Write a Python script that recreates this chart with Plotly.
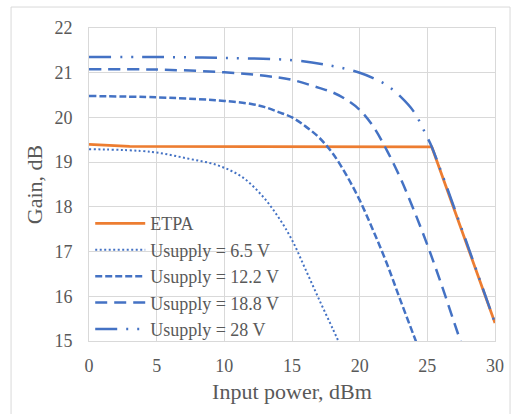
import plotly.graph_objects as go

# ---- data ----
x_etpa = [0, 3, 25.33, 30]
y_etpa = [19.4, 19.35, 19.34, 15.4]

x_65 = [0, 4.6, 7.3, 9.5, 11.3, 12.76, 13.97, 15, 16, 17, 18, 18.5]
y_65 = [19.29, 19.23, 19.08, 18.93, 18.67, 18.26, 17.78, 17.26, 16.6, 15.93, 15.28, 14.95]

x_122 = [0, 5, 8, 10, 12, 13, 14, 15, 16, 17, 18, 19, 20, 21, 22, 23, 24, 24.3]
y_122 = [20.48, 20.45, 20.41, 20.37, 20.3, 20.23, 20.12, 20.0, 19.8, 19.55, 19.2, 18.72, 18.15, 17.47, 16.74, 15.92, 15.12, 14.88]

x_188 = [0, 5, 10, 13, 15, 17, 18, 19, 20, 21, 22, 23, 24, 25, 26, 27, 27.5]
y_188 = [21.08, 21.07, 21.01, 20.93, 20.84, 20.66, 20.56, 20.4, 20.17, 19.8, 19.27, 18.65, 17.93, 17.15, 16.3, 15.4, 14.95]

x_28 = [0, 5, 10, 15, 18, 20, 21, 22, 23, 24, 25, 25.33, 30]
y_28 = [21.35, 21.35, 21.33, 21.28, 21.15, 21.0, 20.88, 20.72, 20.47, 20.13, 19.55, 19.34, 15.4]

x_ticks = [0, 5, 10, 15, 20, 25, 30]
y_ticks = [15, 16, 17, 18, 19, 20, 21, 22]

names = ["ETPA", "Usupply = 6.5 V", "Usupply = 12.2 V", "Usupply = 18.8 V", "Usupply = 28 V"]

ORANGE = "#ED7D31"
BLUE = "#4472C4"
FONT = "Liberation Serif"
TXT = "#595959"
GRID = "#d9d9d9"

fig = go.Figure()
fig.add_trace(go.Scatter(x=x_etpa, y=y_etpa, mode="lines", name=names[0],
                         line=dict(color=ORANGE, width=2.75)))
fig.add_trace(go.Scatter(x=x_65, y=y_65, mode="lines", name=names[1], line_shape="spline",
                         line=dict(color=BLUE, width=2, dash="2px,2.5px")))
fig.add_trace(go.Scatter(x=x_122, y=y_122, mode="lines", name=names[2], line_shape="spline",
                         line=dict(color=BLUE, width=2.5, dash="7px,3px")))
fig.add_trace(go.Scatter(x=x_188, y=y_188, mode="lines", name=names[3], line_shape="spline",
                         line=dict(color=BLUE, width=2.5, dash="12px,7px")))
fig.add_trace(go.Scatter(x=x_28, y=y_28, mode="lines", name=names[4], line_shape="spline",
                         line=dict(color=BLUE, width=2.5, dash="22px,9px,2px,9px,2px,9px")))

fig.update_layout(
    template="none",
    width=512, height=414,
    margin=dict(l=89, r=17, t=28, b=73, autoexpand=False),
    paper_bgcolor="white", plot_bgcolor="white",
    font=dict(family=FONT, color=TXT, size=18),
    showlegend=True,
    legend=dict(x=0.003, y=0.434, xanchor="left", yanchor="top",
                bgcolor="rgba(0,0,0,0)", borderwidth=0, itemwidth=50),
    shapes=[dict(type="rect", xref="paper", yref="paper",
                 x0=-0.192, x1=1.037, y0=-0.25, y1=1.067,
                 line=dict(color=GRID, width=1), fillcolor="rgba(0,0,0,0)",
                 layer="below")],
)
fig.update_xaxes(range=[0, 30], tickvals=x_ticks, showgrid=True, gridcolor=GRID,
                 gridwidth=1, zeroline=False, showline=True, linecolor=GRID, linewidth=1,
                 mirror=True, ticks="", ticklabelstandoff=8,
                 title=dict(text="Input power, dBm", standoff=9,
                            font=dict(size=22, color=TXT)))
fig.update_yaxes(range=[15, 22], tickvals=y_ticks, showgrid=True, gridcolor=GRID,
                 gridwidth=1, zeroline=False, showline=True, linecolor=GRID, linewidth=1,
                 mirror=True, ticks="", ticklabelstandoff=12,
                 title=dict(text="Gain, dB", standoff=5,
                            font=dict(size=22, color=TXT)))

fig.write_html("out.html", post_script="document.body.style.margin='0px';",
               config={"displayModeBar": False})
